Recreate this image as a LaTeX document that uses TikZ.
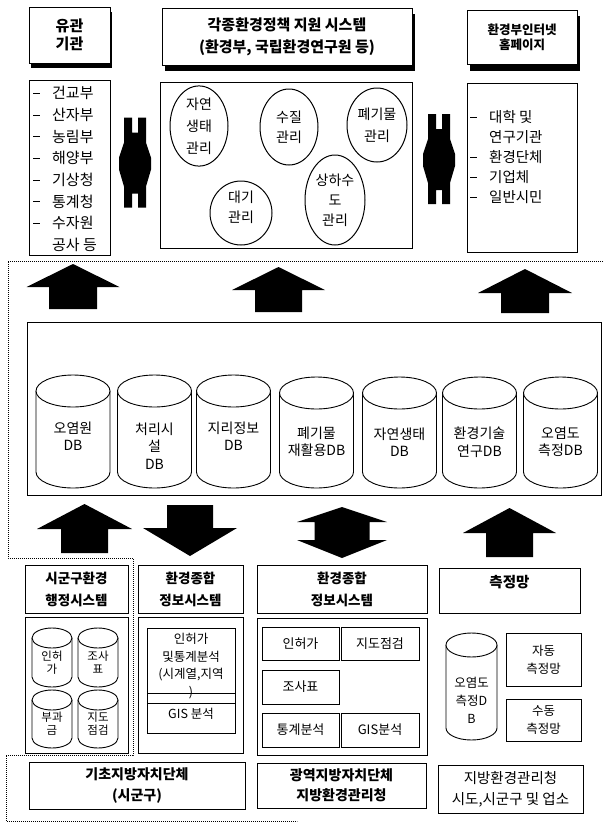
\documentclass[tikz,border=0pt]{standalone}
\usepackage{fontspec}
\setmainfont{Noto Sans CJK KR}
\usetikzlibrary{shapes.geometric}
\newcommand{\fs}[2]{\fontsize{#1}{#2}\selectfont}
\newcommand{\dashmark}{\makebox[19pt][l]{\raisebox{0.32em}{\rule{7pt}{1pt}}}}
\newcommand{\nodash}{\makebox[19pt][l]{}}
% box: style, name, x1, y1, x2, y2, text
\newcommand{\rbox}[7][]{\node[box,#1,minimum width={#5pt-#3pt},minimum height={#6pt-#4pt}] (#2) at ({(#3+#5)/2},{(#4+#6)/2}) {#7};}
% cylinder: style, name, cx, top, bottom, rx, ry, text
\newcommand{\cyl}[8][]{%
  \draw[line width=0.9pt, fill=white] ({#3-#6},{#4+#7}) -- ({#3-#6},{#5-#7}) arc[start angle=180, end angle=0, x radius=#6, y radius=#7] -- ({#3+#6},{#4+#7});
  \draw[line width=0.9pt, fill=white] (#3,{#4+#7}) ellipse[x radius=#6, y radius=#7];
  \node[lbl,#1] (#2) at (#3,{(#4+#5)/2+#7/2}) {#8};}
% block arrow: cx, tip, headbase, shaftend, headhalf, shafthalf
\newcommand{\blockarr}[6]{\fill (#1,#2) -- ({#1+#5},#3) -- ({#1+#6},#3) -- ({#1+#6},#4) -- ({#1-#6},#4) -- ({#1-#6},#3) -- ({#1-#5},#3) -- cycle;}
% notched double arrow: cx, cy
\newcommand{\harr}[2]{\fill ({#1-11},{#2-45}) -- ({#1-3},{#2-45}) -- ({#1-3},{#2-30}) -- ({#1+3},{#2-30}) -- ({#1+3},{#2-45}) -- ({#1+11},{#2-45}) -- ({#1+11},{#2-20}) -- ({#1+16},{#2-5}) -- ({#1+16},{#2+7}) -- ({#1+11},{#2+24}) -- ({#1+11},{#2+45}) -- ({#1+3},{#2+45}) -- ({#1+3},{#2+31}) -- ({#1-3},{#2+31}) -- ({#1-3},{#2+45}) -- ({#1-11},{#2+45}) -- ({#1-11},{#2+24}) -- ({#1-16},{#2+7}) -- ({#1-16},{#2-5}) -- ({#1-11},{#2-20}) -- cycle;}
\begin{document}
\begin{tikzpicture}[x=1pt,y=-1pt,
  box/.style={draw, line width=1pt, fill=white, inner sep=0pt, align=center},
  sbox/.style={box, line width=0.8pt, font=\fs{13}{15}},
  lbl/.style={inner sep=0pt, align=center},
  oval/.style={draw, ellipse, line width=1pt, inner sep=0pt, align=center},
  dotline/.style={line width=0.8pt, dash pattern=on 0.8pt off 1.2pt},
  head/.style={font=\bfseries\fs{13.5}{22}},
  dbt/.style={font=\fs{14}{17.5}}]
\useasboundingbox (0,0) rectangle (603,828);
\fill[white] (0,0) rectangle (603,828);

% ---------- top row ----------
\fill (31,12) rectangle (112,68);
\rbox[font=\bfseries\fs{15}{18}]{yugwan}{29}{7}{110}{63}{유관\\기관}
\fill (165,14) rectangle (415,71);
\rbox[font=\bfseries\fs{15}{22}]{policy}{162}{8}{412}{65}{각종환경정책 지원 시스템\\(환경부, 국립환경연구원 등)}
\fill (470,16) rectangle (580,71);
\rbox[font=\bfseries\fs{12.5}{15}]{web}{467}{10}{577}{64}{환경부인터넷\\홈페이지}

% ---------- second row ----------
\rbox{listL}{29}{80}{110}{255}{}
\node[lbl, align=left, anchor=west, font=\fs{15}{21.7}] (listLt) at (33,169)
 {\dashmark 건교부\\\dashmark 산자부\\\dashmark 농림부\\\dashmark 해양부\\\dashmark 기상청\\\dashmark 통계청\\\dashmark 수자원\\\nodash 공사 등};

\rbox{mgmt}{160}{82}{412}{248}{}
\node[oval, minimum width=58pt, minimum height=74pt, font=\fs{14}{22}] (nature) at (199,126) {자연\\생태\\관리};
\node[oval, minimum width=58pt, minimum height=76pt, font=\fs{14}{20}] (water) at (289,127) {수질\\관리};
\node[oval, minimum width=60pt, minimum height=74pt, font=\fs{14}{22}] (waste) at (377,125) {폐기물\\관리};
\node[oval, minimum width=62pt, minimum height=64pt] (air) at (241,213) {};
\node[lbl, font=\fs{14}{20}] (airt) at (241,207) {대기\\관리};
\node[oval, minimum width=60pt, minimum height=90pt, font=\fs{14}{20}] (sewer) at (335,200) {상하수\\도\\관리};

\rbox{listR}{467}{83}{577}{252}{}
\node[lbl, align=left, anchor=west, font=\fs{14.5}{20}] (listRt) at (470,157)
 {\dashmark 대학 및\\\nodash 연구기관\\\dashmark 환경단체\\\dashmark 기업체\\\dashmark 일반시민};

\harr{135}{162.5}
\harr{439}{159}

% ---------- dotted region ----------
\draw[dotline] (603,261) -- (8,261) -- (8,558) -- (133,558) -- (133,755) -- (6,755) -- (6,821) -- (297,821);

% ---------- upper arrows ----------
\blockarr{73}{264}{287}{309}{46.5}{24}
\blockarr{278.5}{267}{290}{312}{46.5}{23.5}
\blockarr{525}{269}{293}{313}{47}{24}

% ---------- DB area ----------
\rbox{dbarea}{27}{322}{601}{495}{}
\cyl[dbt, yshift=3.5pt]{db1}{73}{375}{488}{37}{16}{오염원\\DB}
\cyl[dbt, yshift=-6.5pt]{db2}{154.5}{375}{488}{37}{16}{처리시\\설\\DB}
\cyl[dbt, yshift=3.5pt]{db3}{233.5}{375}{488}{37}{16}{지리정보\\DB}
\cyl[dbt, yshift=-1.5pt]{db4}{316.5}{377}{488}{37}{16}{폐기물\\재활용DB}
\cyl[dbt, yshift=-1.5pt]{db5}{399.5}{377}{488}{37}{16}{자연생태\\DB}
\cyl[dbt, yshift=-1.5pt]{db6}{479.5}{377}{488}{37}{16}{환경기술\\연구DB}
\cyl[dbt, yshift=-1.5pt]{db7}{560.5}{377}{488}{37}{16}{오염도\\측정DB}

% ---------- lower arrows ----------
\blockarr{84.5}{504}{529}{553}{47.5}{23.5}
\blockarr{190}{556}{528}{505}{47}{23}
\fill (342,507) -- (387,522) -- (369.5,522) -- (369.5,540) -- (387,540) -- (342,558) -- (297,540) -- (314.5,540) -- (314.5,522) -- (297,522) -- cycle;
\blockarr{509.5}{508}{533}{557}{46.5}{23.5}

% ---------- column 1 ----------
\rbox[head]{sgg}{25}{565}{128}{613}{시군구환경\\행정시스템}
\rbox{sggin}{25}{617}{128}{753}{}
\cyl[font=\fs{11.5}{13}]{c1}{52}{628}{687}{20}{10}{인허\\가}
\cyl[font=\fs{11.5}{13}]{c2}{98}{628}{687}{20}{10}{조사\\표}
\cyl[font=\fs{11.5}{13}]{c3}{52}{690}{748}{20}{10}{부과\\금}
\cyl[font=\fs{11.5}{13}]{c4}{98}{690}{748}{20}{10}{지도\\점검}

% ---------- column 2 ----------
\rbox[head]{env2}{138}{565}{243}{613}{환경종합\\정보시스템}
\rbox{env2in}{138}{617}{243}{753}{}
\rbox[line width=0.8pt]{env2c}{147}{628}{235}{733}{}
\draw[line width=0.7pt] (147,693) -- (235,693);
\draw[line width=0.7pt] (147,703) -- (235,703);
\node[lbl, anchor=north, font=\fs{12.5}{17.5}] (env2t) at (191,633) {인허가\\및통계분석\\(시계열,지역\\)};
\node[lbl, font=\fs{12.5}{15}] (gis2) at (191,714) {GIS 분석};

% ---------- column 3 ----------
\rbox[head]{env3}{257}{565}{427}{613}{환경종합\\정보시스템}
\rbox{env3in}{257}{618}{427}{755}{}
\rbox[sbox]{permit}{262}{627}{339}{660}{인허가}
\rbox[sbox]{inspect}{341}{627}{419}{660}{지도점검}
\rbox[sbox]{survey}{262}{670}{339}{704}{조사표}
\rbox[sbox]{stat}{262}{713}{339}{747}{통계분석}
\rbox[sbox]{gis3}{341}{713}{419}{747}{GIS분석}

% ---------- column 4 ----------
\rbox{meas}{439}{568}{580}{613}{}
\node[lbl, font=\bfseries\fs{14.5}{17}] (meast) at (509.5,582) {측정망};
\cyl[font=\fs{12.5}{18}, yshift=-7.5pt]{c5}{471.5}{633}{740}{25.5}{12}{오염도\\측정D\\B}
\rbox[sbox, font=\fs{12.5}{18}]{auto}{506}{633}{581}{686}{자동\\측정망}
\rbox[sbox, font=\fs{12.5}{18}]{manual}{506}{699}{581}{741}{수동\\측정망}

% ---------- bottom row ----------
\rbox[font=\bfseries\fs{14}{21}]{basic}{29}{762}{245}{809}{기초지방자치단체\\(시군구)}
\rbox[font=\bfseries\fs{14}{20}]{wide}{257}{763}{426}{808}{광역지방자치단체\\지방환경관리청}
\rbox[font=\fs{14.5}{21}]{regional}{438}{765}{583}{813}{지방환경관리청\\시도,시군구 및 업소}
\end{tikzpicture}
\end{document}
